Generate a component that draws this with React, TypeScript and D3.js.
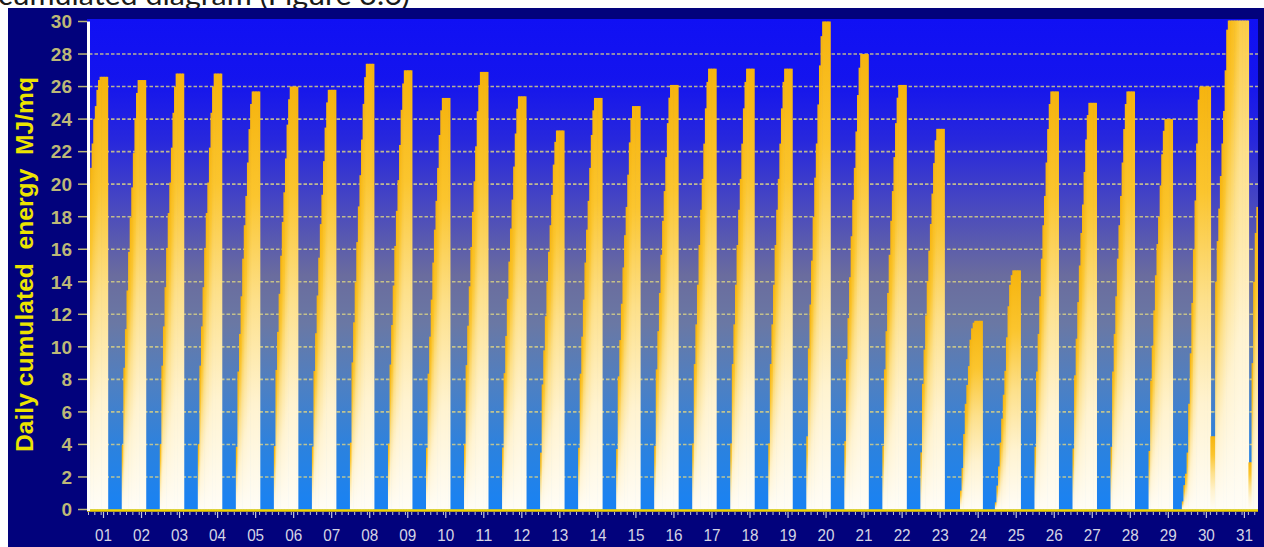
import React from 'react';
import * as d3 from 'd3';

// ---------- data ----------
const DAY_LABELS = ['01','02','03','04','05','06','07','08','09','10','11','12','13','14','15','16','17','18','19','20','21','22','23','24','25','26','27','28','29','30','31'];
const Y_TICKS = [0,2,4,6,8,10,12,14,16,18,20,22,24,26,28,30];

// daily cumulated totals (MJ/mq) read at the top of each day's column
const DAILY_TOTALS = [26.6,26.4,26.8,26.8,25.7,26.0,25.8,27.4,27.0,25.3,26.9,25.4,23.3,25.3,24.8,26.1,27.1,27.1,27.1,30.0,28.0,26.1,23.4,11.6,14.7,25.7,25.0,25.7,24.0,26.0,44.0];

// hourly cumulated fraction of the daily total (hour 0..23)
const CLEAR_PROFILE = [0,0,0,0,0,0,0,0,0,0.15,0.33,0.42,0.51,0.60,0.68,0.75,0.83,0.91,0.97,1,1,1,1,1];
const DAY24_PROFILE = [0,0,0,0,0,0,0,0,0,0,0.10,0.22,0.40,0.56,0.66,0.76,0.90,0.96,0.99,1,1,1,1,1];
const DAY25_PROFILE = [0,0,0,0,0,0,0,0,0.03,0.10,0.18,0.28,0.38,0.48,0.58,0.72,0.85,0.94,0.98,1,1,1,1,1];

// days read hour by hour (MJ/mq)
const DAY01_HOURLY = [0,0,0,0,0,0,0,0,0,6,12,19,20,21,22.5,24,24.8,25.8,26.4,26.6,26.6,26.6,26.6,26.6];
const DAY30_HOURLY = [0,0,0,0,0,0,0.5,1.5,2.2,3.5,6.5,9.6,12.7,16,19,22.5,25.2,26,26,26,26,26,26,26];
const DAY31_HOURLY = [4.5,4.5,4.5,14,16.5,18.5,20.5,22.5,24.5,27,29.5,31,32.5,34,36,38,40,42,44,44,44,44,44,44];
const NEXT_DAY_HOURLY = [2.9,2.9,9,14,17,18.6,18.6,18.6];

// ---------- layout ----------
const W = 1264, H = 547;
const PLOT = { left: 87, right: 1258, top: 19, bottom: 511 };
const DAY_START_X = 69.47;   // pixel of day-1 midnight
const DAY_W = 38.03;

const hourly: number[][] = DAILY_TOTALS.map((tot, i) => {
  if (i === 0) return DAY01_HOURLY;
  if (i === 29) return DAY30_HOURLY;
  if (i === 30) return DAY31_HOURLY;
  const p = i === 23 ? DAY24_PROFILE : i === 24 ? DAY25_PROFILE : CLEAR_PROFILE;
  return p.map(f => f * tot);
});
hourly.push(NEXT_DAY_HOURLY);

const t0 = (PLOT.left - DAY_START_X) / DAY_W;
const t1 = (PLOT.right - DAY_START_X) / DAY_W;
const x = d3.scaleLinear().domain([t0, t1]).range([PLOT.left, PLOT.right]);
const y = d3.scaleLinear().domain([0, 30]).range([509.5, 21.5]);

const LABEL_SHIFT = 0.105; // labels sit slightly before day end

export default function App() {
  const bars: React.ReactNode[] = [];
  hourly.forEach((vals, di) => {
    vals.forEach((v, h) => {
      if (v <= 0) return;
      const xa = x(di + h / 24);
      const xb = x(di + (h + 1) / 24);
      const top = y(v);
      bars.push(
        <rect key={`${di}-${h}`} x={xa} y={top} width={xb - xa + 0.7} height={y(0) - top} fill="url(#barGrad)" />
      );
    });
  });

  const minorTicks: number[] = [];
  for (let d = 0; d < 32; d++) for (let k = 0; k < 6; k++) {
    const t = d + k / 6;
    if (t >= t0 && t <= t1) minorTicks.push(t);
  }

  return (
    <svg width={W} height={H} style={{ position: 'absolute', left: 0, top: 0, display: 'block' }}>
      <defs>
        <linearGradient id="bgGrad" x1="0" y1="0" x2="0" y2="1">
          <stop offset="0" stopColor="#1010f4" />
          <stop offset="0.12" stopColor="#1414ee" />
          <stop offset="0.25" stopColor="#2828dc" />
          <stop offset="0.38" stopColor="#4848c0" />
          <stop offset="0.52" stopColor="#6a6c9e" />
          <stop offset="0.62" stopColor="#6a78a4" />
          <stop offset="0.75" stopColor="#4c80c4" />
          <stop offset="0.88" stopColor="#2a82e0" />
          <stop offset="1" stopColor="#1882f4" />
        </linearGradient>
        <linearGradient id="barGrad" x1="0" y1="0" x2="0" y2="1">
          <stop offset="0" stopColor="#f6b40e" />
          <stop offset="0.25" stopColor="#fbc52e" />
          <stop offset="0.5" stopColor="#fde08a" />
          <stop offset="0.75" stopColor="#fff3d0" />
          <stop offset="1" stopColor="#fffdf6" />
        </linearGradient>
        <clipPath id="plotClip">
          <rect x={PLOT.left} y={20.5} width={PLOT.right - PLOT.left} height={PLOT.bottom - 20.5} />
        </clipPath>
      </defs>

      <text x={-2} y={5} fontFamily="Lato, 'Open Sans', sans-serif" fontSize={28} fill="#1a1a1a" textLength={412} lengthAdjust="spacingAndGlyphs">
        cumulated diagram (Figure 3.6)
      </text>

      <rect x={8} y={8} width={W - 8} height={H - 8} fill="#02027c" />
      <rect x={PLOT.left} y={PLOT.top} width={PLOT.right - PLOT.left} height={PLOT.bottom - PLOT.top} fill="url(#bgGrad)" />

      {Y_TICKS.filter(v => v > 0 && v < 30).map(v => (
        <line key={`g${v}`} x1={PLOT.left + 2} x2={PLOT.right} y1={y(v)} y2={y(v)}
          stroke="#d6cf86" strokeWidth={1.6} strokeDasharray="3.5 2" opacity={0.85} />
      ))}

      <g clipPath="url(#plotClip)">{bars}</g>

      <line x1={PLOT.left} x2={PLOT.right} y1={y(0) + 1} y2={y(0) + 1} stroke="#f2d400" strokeWidth={2.5} />
      <line x1={PLOT.left + 1.5} x2={PLOT.left + 1.5} y1={y(30)} y2={PLOT.bottom} stroke="#ffffff" strokeWidth={3} />

      {Y_TICKS.map(v => (
        <g key={`y${v}`}>
          <line x1={78} x2={PLOT.left} y1={y(v)} y2={y(v)} stroke="#bdb877" strokeWidth={1.5} />
          <text x={72} y={y(v)} dy="0.36em" textAnchor="end" fontFamily="'Liberation Sans', Arial, sans-serif"
            fontWeight="bold" fontSize={19} fill="#bdb877">{v}</text>
        </g>
      ))}

      {minorTicks.map((t, i) => (
        <line key={`m${i}`} x1={x(t)} x2={x(t)} y1={512} y2={515} stroke="#c4c4d4" strokeWidth={1} />
      ))}
      {DAY_LABELS.map((lab, i) => {
        const cx = x(i + 1 - LABEL_SHIFT);
        return (
          <g key={`x${lab}`}>
            <line x1={cx} x2={cx} y1={512} y2={518} stroke="#c4c4d4" strokeWidth={1.2} />
            <text x={cx} y={541} textAnchor="middle" fontFamily="'Liberation Sans', Arial, sans-serif"
              fontSize={17} fill="#d4d4e4" textLength={17} lengthAdjust="spacingAndGlyphs">{lab}</text>
          </g>
        );
      })}

      <text transform={`translate(33, 264.5) rotate(-90)`} textAnchor="middle" fontFamily="'Liberation Sans', Arial, sans-serif"
        fontWeight="bold" fontSize={23} fill="#ece400" textLength={375} lengthAdjust="spacingAndGlyphs"
        style={{ whiteSpace: 'pre' }}>
        {'Daily cumulated  energy  MJ/mq'}
      </text>
    </svg>
  );
}
